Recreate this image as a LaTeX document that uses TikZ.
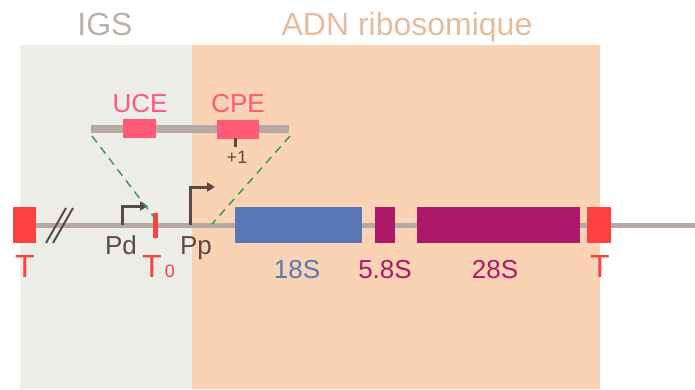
\documentclass[tikz,border=0pt]{standalone}
\usepackage{fontspec}
\setmainfont{Liberation Sans}
\usetikzlibrary{positioning,arrows.meta}
\definecolor{igsbg}{HTML}{EDEDE8}
\definecolor{adnbg}{HTML}{F9D3B4}
\definecolor{igstxt}{HTML}{BDB0A9}
\definecolor{adntxt}{HTML}{E6BC9E}
\definecolor{dna}{HTML}{B5A9A4}
\definecolor{term}{HTML}{FF4040}
\definecolor{ctrlc}{HTML}{FF5A78}
\definecolor{rrnab}{HTML}{5A78B8}
\definecolor{rrnam}{HTML}{AE1868}
\definecolor{dark}{HTML}{5A4A45}
\definecolor{zoomg}{HTML}{3E9E50}

\begin{document}
\begin{tikzpicture}[x=1pt,y=-1pt]
\tikzstyle{gene}=[inner sep=0pt,minimum height=36pt]
\tikzstyle{ctrl}=[inner sep=0pt,minimum height=19pt,fill=ctrlc]
\tikzstyle{txt}=[inner sep=0pt,anchor=base,font=\fontsize{26}{30}\selectfont]
\tikzstyle{big}=[txt,font=\fontsize{32}{38}\selectfont]
\tikzstyle{dnaline}=[draw=dna,line width=5pt]
\tikzstyle{prom}=[draw=dark,line width=3pt,-{Triangle[length=8pt,width=9pt]}]
\tikzstyle{zoomline}=[draw=zoomg,line width=1.5pt,dash pattern=on 8pt off 6pt]
\useasboundingbox (0,0) rectangle (695,389);
% panels
\fill[igsbg] (20,45) rectangle (192,389);
\fill[adnbg] (192,45) rectangle (600,389);
\node [big,text=igstxt] (igs) at (105,35) {IGS};
\node [big,text=adntxt] (adn) at (407,35) {ADN ribosomique};
% main unit
\coordinate (dnaend) at (695,225);
\node [gene,fill=term,minimum width=23pt] (Tl) at (24.5,225) {};
\draw[dnaline] (Tl.east) -- (dnaend);
\node [gene,fill=rrnab,minimum width=127pt] (s18) at (298.5,225) {};
\node [gene,fill=rrnam,minimum width=20pt] (s58) at (385,225) {};
\node [gene,fill=rrnam,minimum width=163pt] (s28) at (498.5,225) {};
\node [gene,fill=term,minimum width=24pt] (Tr) at (599,225) {};
\node [inner sep=0pt,minimum width=5pt,minimum height=25pt,fill=term] (T0) at (155.5,225.5) {};
\node [big,text=term] (Tltxt) at (25,277) {T};
\node [big,text=term] (Trtxt) at (600,277) {T};
\node [big,text=term,anchor=base west] (T0txt) at (142,277) {T\fontsize{18}{20}\selectfont\,0};
\node [txt,text=rrnab] (t18) at (297,278) {18S};
\node [txt,text=rrnam] (t58) at (385,278) {5.8S};
\node [txt,text=rrnam] (t28) at (495,278) {28S};
% break
\draw[dark,line width=2pt] (46,243) -- (66,208);
\draw[dark,line width=2pt] (53,243) -- (73,208);
% promoters
\coordinate (pd) at (122,225);
\coordinate (pp) at (190,225);
\draw[prom] (pd) -- ++(0,-19) -- ++(26,0);
\draw[prom] (pp) -- ++(0,-38) -- ++(25,0);
\node [txt,text=dark] (pdtxt) at (121,254) {Pd};
\node [txt,text=dark] (pptxt) at (196,254) {Pp};
% enlarged promoter
\coordinate (ua) at (91,129);
\coordinate (ub) at (289,129);
\draw[draw=dna,line width=8pt] (ua) -- (ub);
\node [ctrl,minimum width=33pt] (uce) at (139.5,128.5) {};
\node [ctrl,minimum width=42pt] (cpe) at (238,129) {};
\node [txt,text=ctrlc] (ucetxt) at (140,112) {UCE};
\node [txt,text=ctrlc] (cpetxt) at (238,112) {CPE};
\coordinate (p1) at (235,138);
\draw[dark,line width=3pt] (p1) -- ++(0,9);
\node [txt,text=dark,font=\fontsize{18}{22}\selectfont] (p1txt) at (237,163) {+1};
\coordinate (zl) at (92,136);
\coordinate (zr) at (290,136);
\coordinate (zlb) at (160,225);
\coordinate (zrb) at (212,224);
\draw[zoomline] (zl) -- (zlb);
\draw[zoomline] (zr) -- (zrb);
\end{tikzpicture}
\end{document}
